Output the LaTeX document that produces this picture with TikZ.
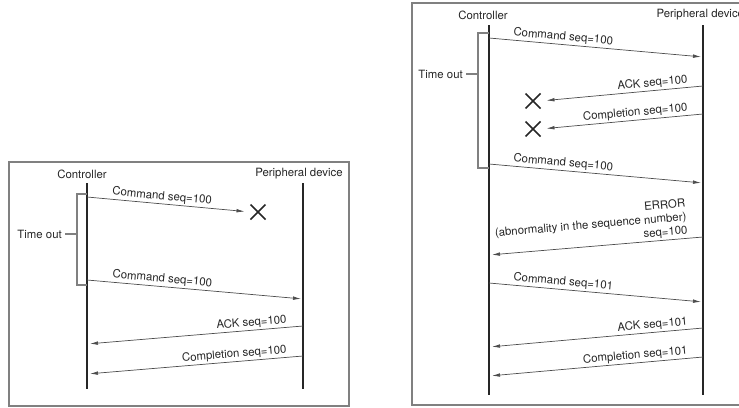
\documentclass[tikz,border=0pt]{standalone}
\usepackage{fontspec}
\setmainfont{TeX Gyre Heros}
\usetikzlibrary{arrows.meta,shapes.misc}
\begin{document}
\begin{tikzpicture}[x=1pt,y=-1pt,
  every node/.style={font=\fontsize{11.4}{13.5}\selectfont, text=black!85},
  frame/.style={draw=black!50, line width=1.2pt},
  life/.style={draw=black!85, line width=1.8pt},
  msg/.style={draw=black!70, line width=0.7pt},
  tipr/.style={-{Latex[length=8pt,width=3.6pt]}, shorten >=2pt},
  tipl/.style={{Latex[length=8pt,width=3.6pt]}-, shorten <=3pt},
  lbl/.style={sloped, inner sep=1.5pt},
  bracket/.style={draw=black!50, line width=1.6pt},
  xmark/.style={draw=black!85, cross out, line width=1.5pt, minimum size=13.5pt, inner sep=0pt}
]
\useasboundingbox (0,0) rectangle (739,407);
\clip (0,0) rectangle (739,407);

% ---------------- left panel ----------------
\draw[frame] (9,162) rectangle (349,406);
\node (cL) at (82,174) {Controller};
\node (pL) at (299,174) {Peripheral device};
\coordinate (cLtop) at (87,183);  \coordinate (cLbot) at (87,389);
\coordinate (pLtop) at (303,183); \coordinate (pLbot) at (303,389);
\draw[life] (cLtop) -- (cLbot);
\draw[life] (pLtop) -- (pLbot);

% time out bracket
\coordinate (bL1) at (87,194); \coordinate (bL2) at (77,194);
\coordinate (bL3) at (77,285); \coordinate (bL4) at (87,285);
\draw[bracket] (bL1) -- (bL2) -- (bL3) -- (bL4);
\node[anchor=east, inner sep=1pt] (toL) at (63,234) {Time out};
\coordinate (tkL) at (77,234);
\draw[bracket] (toL.east) ++(2,0) -- (tkL);

% lost command
\coordinate (m1s) at (87,197);
\node[xmark] (xL) at (258,212) {};
\draw[msg,-{Latex[length=8pt,width=3.6pt]}, shorten >=6pt] (m1s) -- node[lbl, pos=0.14, anchor=south west] {Command seq=100} (xL.west);

% retry
\coordinate (m2s) at (87,280); \coordinate (m2e) at (303,299);
\draw[msg,tipr] (m2s) -- node[lbl, pos=0.107, anchor=south west] {Command seq=100} (m2e);

% ACK
\coordinate (m3c) at (87,344); \coordinate (m3p) at (303,326);
\draw[msg,tipl] (m3c) -- node[lbl, pos=0.935, anchor=south east] {ACK seq=100} (m3p);

% Completion
\coordinate (m4c) at (87,374); \coordinate (m4p) at (303,356);
\draw[msg,tipl] (m4c) -- node[lbl, pos=0.935, anchor=south east] {Completion seq=100} (m4p);

% ---------------- right panel ----------------
\draw[frame] (412,3) rectangle (770,405);
\node (cR) at (483,15) {Controller};
\node[anchor=west] (pR) at (653,15) {Peripheral device};
\coordinate (cRtop) at (489,25);  \coordinate (cRbot) at (489,395);
\coordinate (pRtop) at (703,25);  \coordinate (pRbot) at (703,395);
\draw[life] (cRtop) -- (cRbot);
\draw[life] (pRtop) -- (pRbot);

% time out bracket
\coordinate (bR1) at (489,33); \coordinate (bR2) at (478,33);
\coordinate (bR3) at (478,168); \coordinate (bR4) at (489,168);
\draw[bracket] (bR1) -- (bR2) -- (bR3) -- (bR4);
\node[anchor=east, inner sep=1pt] (toR) at (464,74) {Time out};
\coordinate (tkR) at (478,74);
\draw[bracket] (toR.east) ++(2,0) -- (tkR);

% command 100
\coordinate (n1c) at (489,38); \coordinate (n1p) at (703,57);
\draw[msg,tipr] (n1c) -- node[lbl, pos=0.103, anchor=south west] {Command seq=100} (n1p);

% lost ACK
\node[xmark] (xR1) at (533,101) {};
\coordinate (n2p) at (703,86);
\draw[msg,{Latex[length=8pt,width=3.6pt]}-, shorten <=6pt] (xR1.east) -- node[lbl, pos=0.92, anchor=south east] {ACK seq=100} (n2p);

% lost Completion
\node[xmark] (xR2) at (533,129) {};
\coordinate (n3p) at (703,114);
\draw[msg,{Latex[length=8pt,width=3.6pt]}-, shorten <=6pt] (xR2.east) -- node[lbl, pos=0.92, anchor=south east] {Completion seq=100} (n3p);

% command 100 retry
\coordinate (n4c) at (489,164); \coordinate (n4p) at (703,183);
\draw[msg,tipr] (n4c) -- node[lbl, pos=0.103, anchor=south west] {Command seq=100} (n4p);

% ERROR
\coordinate (n5c) at (489,255); \coordinate (n5p) at (703,237);
\draw[msg,tipl] (n5c) -- node[lbl, pos=0.939, anchor=south east, align=right] {ERROR\\(abnormality in the sequence number)\\seq=100} (n5p);

% command 101
\coordinate (n6c) at (489,283); \coordinate (n6p) at (703,302);
\draw[msg,tipr] (n6c) -- node[lbl, pos=0.103, anchor=south west] {Command seq=101} (n6p);

% ACK 101
\coordinate (n7c) at (489,347); \coordinate (n7p) at (703,328);
\draw[msg,tipl] (n7c) -- node[lbl, pos=0.939, anchor=south east] {ACK seq=101} (n7p);

% Completion 101
\coordinate (n8c) at (489,376); \coordinate (n8p) at (703,357);
\draw[msg,tipl] (n8c) -- node[lbl, pos=0.939, anchor=south east] {Completion seq=101} (n8p);
\end{tikzpicture}
\end{document}
